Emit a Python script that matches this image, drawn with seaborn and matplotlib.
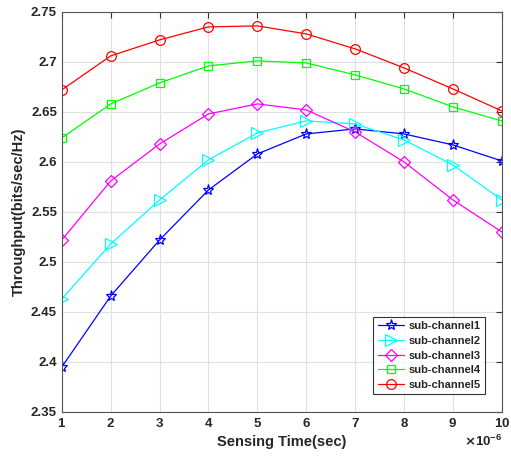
import numpy as np
import pandas as pd
import matplotlib
matplotlib.use("Agg")
import matplotlib.pyplot as plt
import seaborn as sns
from matplotlib.ticker import ScalarFormatter

sensing_time = [1e-6, 2e-6, 3e-6, 4e-6, 5e-6, 6e-6, 7e-6, 8e-6, 9e-6, 10e-6]
channels = ['sub-channel1', 'sub-channel2', 'sub-channel3', 'sub-channel4', 'sub-channel5']
ch1 = [2.395, 2.466, 2.522, 2.572, 2.608, 2.628, 2.633, 2.628, 2.617, 2.601]
ch2 = [2.463, 2.518, 2.562, 2.602, 2.629, 2.641, 2.638, 2.622, 2.597, 2.562]
ch3 = [2.522, 2.581, 2.618, 2.648, 2.658, 2.652, 2.630, 2.600, 2.562, 2.530]
ch4 = [2.624, 2.658, 2.679, 2.696, 2.701, 2.699, 2.687, 2.673, 2.655, 2.641]
ch5 = [2.672, 2.706, 2.722, 2.735, 2.736, 2.728, 2.713, 2.694, 2.673, 2.651]

colors = ['#0000ff', '#00ffff', '#ff00ff', '#00ff00', '#ff0000']
markers = ['*', '>', 'D', 's', 'o']
msizes = [8, 8, 6, 6, 7]

rows = []
for name, vals in zip(channels, [ch1, ch2, ch3, ch4, ch5]):
    for t, v in zip(sensing_time, vals):
        rows.append([t, v, name])
df = pd.DataFrame(rows, columns=['time', 'throughput', 'channel'])

sns.set_style('white')
plt.rcParams['font.family'] = ['Liberation Sans', 'DejaVu Sans']
plt.rcParams['font.weight'] = 'bold'

fig = plt.figure(figsize=(5.11, 4.57), dpi=100)
ax = fig.add_axes([0.121, 0.0985, 0.861, 0.8755])

for name, c, m, ms in zip(channels, colors, markers, msizes):
    sub = df[df['channel'] == name]
    sns.lineplot(data=sub, x='time', y='throughput', ax=ax, color=c, marker=m,
                 markersize=ms, markerfacecolor='none', markeredgecolor=c,
                 markeredgewidth=0.9, linewidth=0.9, label=name)

ax.set_xlim(1e-6, 10e-6)
ax.set_ylim(2.35, 2.75)
ax.set_xticks(sensing_time)
ax.set_yticks(np.arange(2.35, 2.751, 0.05))
ax.set_yticklabels(['2.35', '2.4', '2.45', '2.5', '2.55', '2.6', '2.65', '2.7', '2.75'])
fmt = ScalarFormatter(useMathText=True)
fmt.set_powerlimits((-6, -6))
ax.xaxis.set_major_formatter(fmt)

ax.grid(True, color='#e0e0e0', linewidth=0.8)
for s in ax.spines.values():
    s.set_color('#555555')
    s.set_linewidth(0.8)
ax.tick_params(direction='in', top=True, right=True, length=4, color='#333333',
               labelsize=9.5, labelcolor='#262626')
for lbl in ax.get_xticklabels() + ax.get_yticklabels():
    lbl.set_fontweight('bold')
ax.xaxis.get_offset_text().set_fontsize(9.5)

ax.set_xlabel('Sensing Time(sec)', fontsize=10.5, fontweight='bold', color='#262626')
ax.set_ylabel('Throughput(bits/sec/Hz)', fontsize=10.5, fontweight='bold', color='#262626')

leg = ax.legend(loc='lower right', bbox_to_anchor=(0.975, 0.03), fontsize=8,
                frameon=True, fancybox=False, edgecolor='black', handlelength=2.4,
                handletextpad=0.4, borderpad=0.4, labelspacing=0.42)
leg.get_frame().set_linewidth(0.8)
for t in leg.get_texts():
    t.set_fontweight('bold')

fig.savefig('out.png', dpi=100)
